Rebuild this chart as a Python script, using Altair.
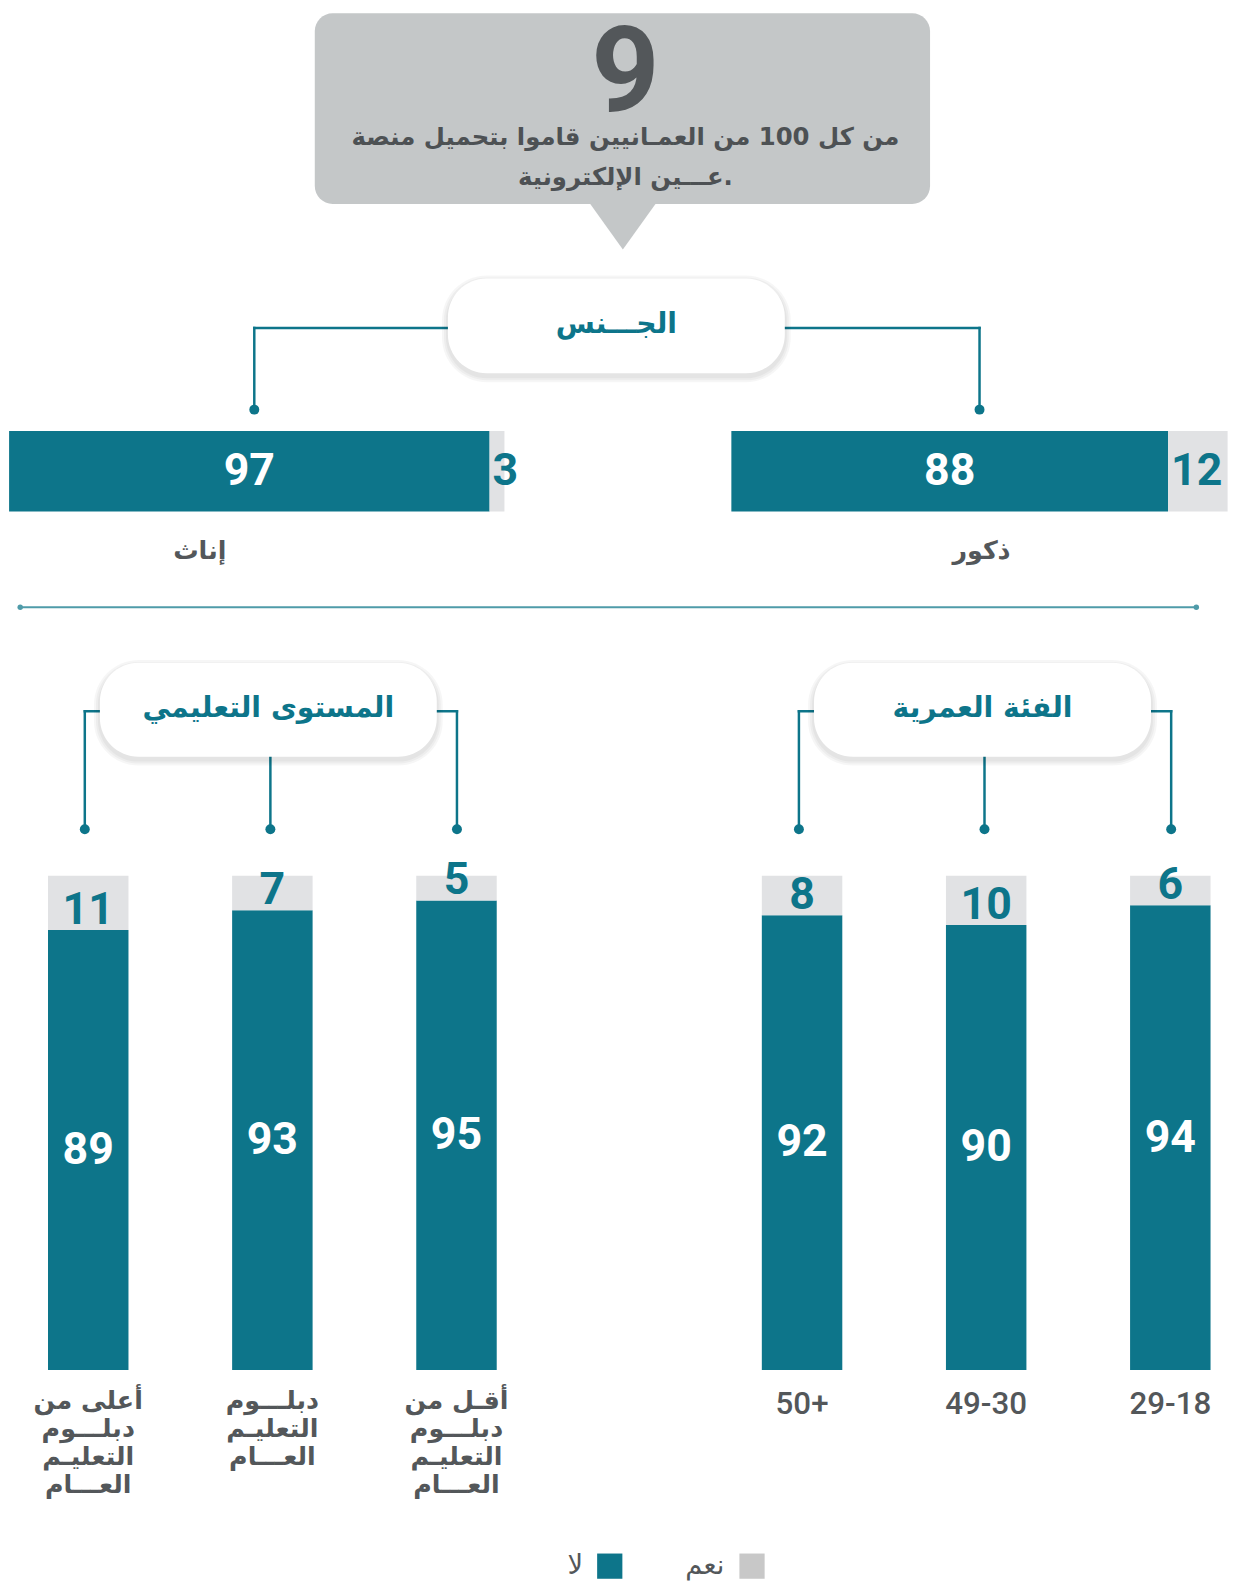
import altair as alt
import pandas as pd

# ---------------- data ----------------
headline_number = "9"
headline_lines = ["من كل 100 من العمـانيين قاموا بتحميل منصة", "عـــين الإلكترونية."]
section_titles = ["الجـــنس", "الفئة العمرية", "المستوى التعليمي"]

gender_cats = ["إناث", "ذكور"]
gender_no = [97, 88]
gender_yes = [3, 12]

# right-to-left reading order
age_cats = ["29-18", "49-30", "50+"]
age_no = [94, 90, 92]
age_yes = [6, 10, 8]

edu_cats = [
    "أقـل من|دبلـــوم|التعليـم|العـــام",
    "دبلـــوم|التعليـم|العـــام",
    "أعلى من|دبلـــوم|التعليـم|العـــام",
]
edu_no = [95, 93, 89]
edu_yes = [5, 7, 11]

legend_labels = ["نعم", "لا"]

# ---------------- style / layout ----------------
TEAL = "#0D758A"
LIGHT = "#E1E2E4"
BOX = "#C4C7C8"
DARK = "#53575A"
LEGGRAY = "#C8C8C8"
DIV = "#4F9BA9"
AR = "DejaVu Sans"
NUM = "Roboto"
W, H = 1228, 1575
K = 1.0153


def P(v):
    """page-layout coordinate -> chart pixel"""
    return round(v * K - 8, 1)


ONE = pd.DataFrame({"k": [0]})


def rects(boxes, radius, color, opacity=1.0):
    df = pd.DataFrame(boxes, columns=["x", "y", "x2", "y2"])
    return alt.Chart(df).mark_rect(cornerRadius=radius, color=color, opacity=opacity).encode(
        x=alt.X("x:Q", scale=None), x2="x2:Q", y=alt.Y("y:Q", scale=None), y2="y2:Q")


def rules(segs, color=TEAL, width=2.5):
    df = pd.DataFrame([[P(v) for v in s] for s in segs], columns=["x", "y", "x2", "y2"])
    return alt.Chart(df).mark_rule(color=color, strokeWidth=width, strokeCap="square").encode(
        x=alt.X("x:Q", scale=None), x2="x2:Q", y=alt.Y("y:Q", scale=None), y2="y2:Q")


def dots(pts, size=100, color=TEAL):
    df = pd.DataFrame([[P(v) for v in p] for p in pts], columns=["x", "y"])
    return alt.Chart(df).mark_circle(size=size, color=color, opacity=1).encode(
        x=alt.X("x:Q", scale=None), y=alt.Y("y:Q", scale=None))


def label(text, x, y, **kw):
    return alt.Chart(ONE).mark_text(text=text, **kw).encode(x=alt.value(P(x)), y=alt.value(P(y)))


def pill(x, y, x2, y2, title):
    x, y, x2, y2 = P(x), P(y), P(x2), P(y2)
    layers = [rects([(x - d, y - d + 3, x2 + d, y2 + d + 3)], radius=39 + d,
                    color="#000000", opacity=0.035) for d in (6, 4, 2)]
    layers.append(rects([(x, y, x2, y2)], radius=39, color="white"))
    layers.append(alt.Chart(ONE).mark_text(
        text=title, font=AR, fontSize=28.5, fontWeight="bold", color=TEAL,
        align="center", baseline="middle").encode(
        x=alt.value((x + x2) / 2), y=alt.value((y + y2) / 2 - 2)))
    return layers


COLOR = alt.Color("key:N", scale=alt.Scale(domain=["no", "yes"], range=[TEAL, LIGHT]), legend=None)


# ---------------- gender bars (horizontal) ----------------
def gender_layers(i, x0, x1):
    df = pd.DataFrame({"cat": [gender_cats[i]], "no": [gender_no[i]], "yes": [gender_yes[i]]})
    xs = alt.Scale(domain=[0, 100], range=[P(x0), P(x1)], nice=False, zero=True)
    ys = alt.Scale(type="band", domain=[gender_cats[i]], range=[P(422), P(502)],
                   paddingInner=0, paddingOuter=0)
    base = alt.Chart(df)
    bars = base.transform_fold(["no", "yes"], as_=["key", "value"]).transform_calculate(
        ord="datum.key == 'no' ? 0 : 1").mark_bar().encode(
        x=alt.X("value:Q", stack="zero", scale=xs, axis=None),
        y=alt.Y("cat:N", scale=ys, axis=None),
        color=COLOR,
        order=alt.Order("ord:Q"))
    no_lab = base.transform_calculate(mid="datum.no / 2").mark_text(
        font=NUM, fontSize=45, fontWeight="bold", color="white", baseline="middle").encode(
        x=alt.X("mid:Q", scale=xs, axis=None), y=alt.Y("cat:N", scale=ys, axis=None), text="no:Q")
    yes_lab = base.mark_text(font=NUM, fontSize=45, fontWeight="bold", color=TEAL,
                             baseline="middle", align="left", dx=3).encode(
        x=alt.X("no:Q", scale=xs, axis=None), y=alt.Y("cat:N", scale=ys, axis=None), text="yes:Q")
    return [bars, no_lab, yes_lab]


# ---------------- vertical bars ----------------
STEP, PI = 185.3, 0.3


def vbar_layers(cats, no, yes, mid_center, lfont, lsize, lweight):
    df = pd.DataFrame({"cat": cats, "no": no, "yes": yes})
    a = mid_center - STEP - STEP * (1 - PI) / 2
    b = a + STEP * (3 - PI)
    xs = alt.Scale(type="band", domain=cats, range=[round(a, 1), round(b, 1)], reverse=True,
                   paddingInner=PI, paddingOuter=0)
    X = alt.X("cat:N", scale=xs, axis=None)
    ys = alt.Scale(domain=[0, 100], range=[P(1353), P(863)], nice=False, zero=True)
    base = alt.Chart(df)
    bars = base.transform_fold(["no", "yes"], as_=["key", "value"]).transform_calculate(
        ord="datum.key == 'no' ? 0 : 1").mark_bar(size=81).encode(
        x=X,
        y=alt.Y("value:Q", stack="zero", scale=ys, axis=None),
        color=COLOR,
        order=alt.Order("ord:Q"))
    no_lab = base.transform_calculate(mid="datum.no / 2").mark_text(
        font=NUM, fontSize=45, fontWeight="bold", color="white", baseline="middle").encode(
        x=X, y=alt.Y("mid:Q", scale=ys, axis=None), text="no:Q")
    yes_lab = base.mark_text(font=NUM, fontSize=45, fontWeight="bold", color=TEAL,
                             baseline="alphabetic", dy=-6).encode(
        x=X, y=alt.Y("no:Q", scale=ys, axis=None), text="yes:Q")
    cat_lab = base.transform_calculate(z="0").mark_text(
        font=lfont, fontSize=lsize, fontWeight=lweight, color=DARK, baseline="top",
        align="center", lineBreak="|", lineHeight=28.2, dy=19).encode(
        x=X, y=alt.Y("z:Q", scale=ys, axis=None), text="cat:N")
    return [bars, no_lab, yes_lab, cat_lab]


layers = [
    # headline callout
    rects([(P(312), 0, P(922), P(197))], 18, BOX),
    alt.Chart(ONE).mark_point(shape="M-1,-0.7L1,-0.7L0,0.7Z", size=4356, filled=True,
                              color=BOX, opacity=1).encode(x=alt.value(P(617.5)), y=alt.value(P(219.5))),
    label(headline_number, 620, 105, font=NUM, fontSize=120, fontWeight="bold", color=DARK,
          align="center", baseline="alphabetic"),
    label(headline_lines[0], 620, 132, font=AR, fontSize=24.5, fontWeight="bold", color="#4D5154",
          align="center", baseline="middle"),
    label(headline_lines[1], 620, 171, font=AR, fontSize=24.5, fontWeight="bold", color="#4D5154",
          align="center", baseline="middle"),
    # gender title + connectors
    rules([(444, 320, 252, 320), (252, 320, 252, 401), (778, 320, 971, 320), (971, 320, 971, 401)]),
    *pill(444, 271, 778, 365, section_titles[0]),
    dots([(252, 401), (971, 401)]),
    # gender bars
    *gender_layers(0, 9, 500),
    *gender_layers(1, 725, 1217),
    label(gender_cats[0], 198, 541, font=AR, fontSize=25.5, fontWeight="bold", color=DARK,
          align="center", baseline="middle"),
    label(gender_cats[1], 973, 541, font=AR, fontSize=25.5, fontWeight="bold", color=DARK,
          align="center", baseline="middle"),
    # divider
    rules([(20, 597, 1186, 597)], color=DIV, width=2),
    dots([(20, 597), (1186, 597)], size=30, color=DIV),
    # section titles + connectors
    rules([(99, 700, 84, 700), (84, 700, 84, 817), (433, 700, 453, 700), (453, 700, 453, 817),
           (268, 745, 268, 817),
           (807, 700, 792, 700), (792, 700, 792, 817), (1141, 700, 1161, 700), (1161, 700, 1161, 817),
           (976, 745, 976, 817)]),
    *pill(99, 652, 433, 745, section_titles[2]),
    *pill(807, 652, 1141, 745, section_titles[1]),
    dots([(84, 817), (268, 817), (453, 817), (792, 817), (976, 817), (1161, 817)]),
    # vertical bars
    *vbar_layers(edu_cats, edu_no, edu_yes, 266.1, AR, 25.5, "bold"),
    *vbar_layers(age_cats, age_no, age_yes, 984.6, NUM, 31.5, 500),
    # legend
    alt.Chart(ONE).mark_square(size=645, color=LEGGRAY, opacity=1).encode(
        x=alt.value(P(745.5)), y=alt.value(P(1547.5))),
    label(legend_labels[0], 718, 1547.5, font=AR, fontSize=27.5, color=DARK, align="right", baseline="middle"),
    alt.Chart(ONE).mark_square(size=645, color=TEAL, opacity=1).encode(
        x=alt.value(P(604.5)), y=alt.value(P(1547.5))),
    label(legend_labels[1], 578, 1547.5, font=AR, fontSize=27.5, color=DARK, align="right", baseline="middle"),
]

chart = alt.layer(*layers).resolve_scale(x="independent", y="independent").properties(
    width=W, height=H, padding=0, background="white",
    autosize=alt.AutoSizeParams(type="none")).configure_view(stroke=None)

chart.save("out.html", embed_options={"renderer": "svg", "actions": False})
